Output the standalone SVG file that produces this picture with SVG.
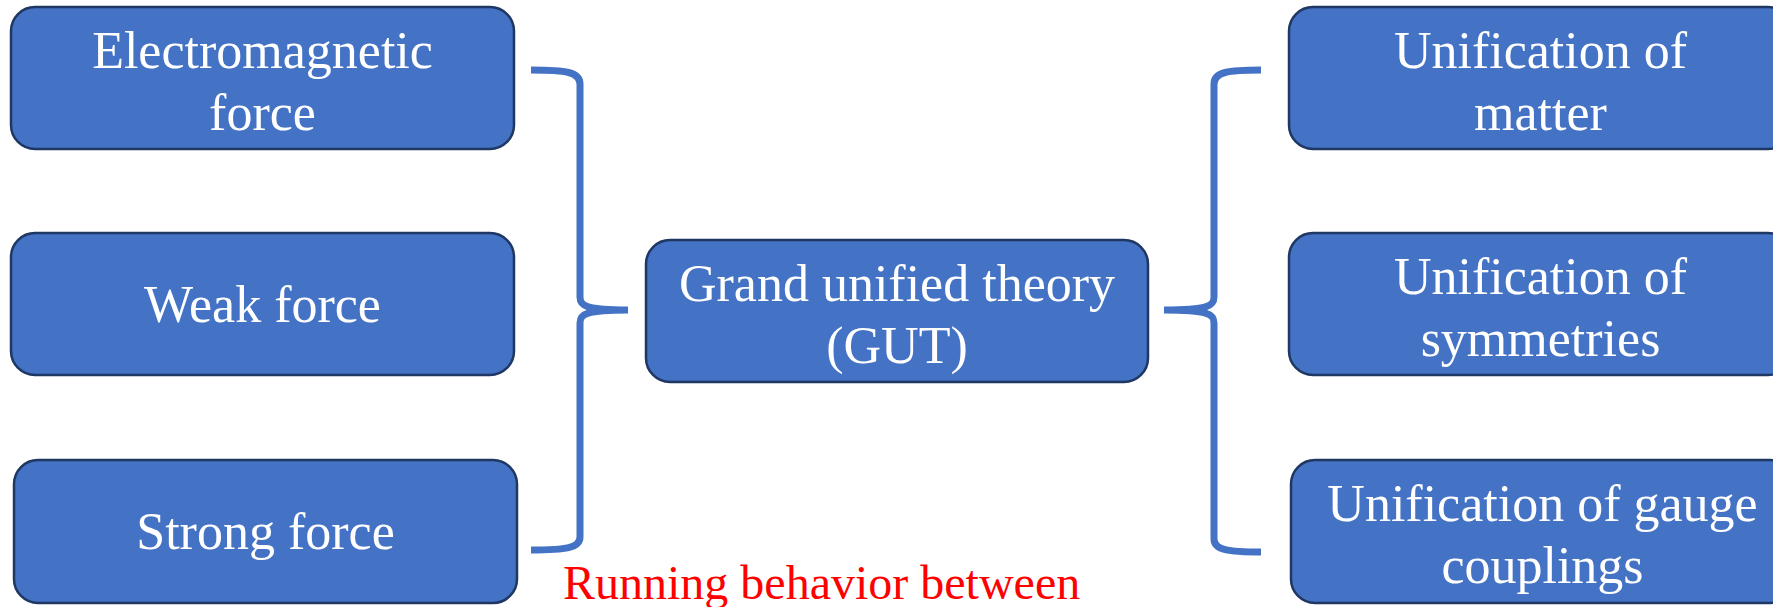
<svg xmlns="http://www.w3.org/2000/svg" width="1773" height="607" viewBox="0 0 1773 607">
<style>
.box{fill:#4472C4;stroke:#1F3763;stroke-width:2.5}
.lbl{fill:#FFFFFF;font-family:"Liberation Serif","Times New Roman",serif;font-size:52px;text-anchor:middle}
.brace{fill:none;stroke:#4472C4;stroke-width:7;stroke-linecap:butt;stroke-linejoin:round}
.note{fill:#FF0000;font-family:"Liberation Serif","Times New Roman",serif;font-size:48px}
</style>
<rect width="1773" height="607" fill="#FFFFFF"/>
<g id="connectors">
<path class="brace" d="M531,70 C566,70 580,72 580,84 L580,297 C580,306 586,310 628,310 M628,310 C586,310 580,314 580,323 L580,537 C580,548 566,550 531,550"/>
<path class="brace" d="M1261,70 C1228,70 1214,72 1214,84 L1214,297 C1214,306 1208,310 1164,310 M1164,310 C1208,310 1214,314 1214,323 L1214,539 C1214,550 1228,552 1261,552"/>
</g>
<g id="node-em">
<rect class="box" x="11" y="7" width="503" height="142" rx="24"/>
<text class="lbl" x="262.5" y="68">Electromagnetic</text>
<text class="lbl" x="262.5" y="130">force</text>
</g>
<g id="node-weak">
<rect class="box" x="11" y="233" width="503" height="142" rx="24"/>
<text class="lbl" x="262.5" y="322">Weak force</text>
</g>
<g id="node-strong">
<rect class="box" x="14" y="460" width="503" height="143" rx="24"/>
<text class="lbl" x="265.5" y="549">Strong force</text>
</g>
<g id="node-gut">
<rect class="box" x="646" y="240" width="502" height="142" rx="24"/>
<text class="lbl" x="897" y="301">Grand unified theory</text>
<text class="lbl" x="897" y="363">(GUT)</text>
</g>
<g id="node-matter">
<rect class="box" x="1289" y="7" width="503" height="142" rx="24"/>
<text class="lbl" x="1540.5" y="68">Unification of</text>
<text class="lbl" x="1540.5" y="130">matter</text>
</g>
<g id="node-symmetries">
<rect class="box" x="1289" y="233" width="503" height="142" rx="24"/>
<text class="lbl" x="1540.5" y="294">Unification of</text>
<text class="lbl" x="1540.5" y="356">symmetries</text>
</g>
<g id="node-gauge">
<rect class="box" x="1291" y="460" width="503" height="143" rx="24"/>
<text class="lbl" x="1542.5" y="521">Unification of gauge</text>
<text class="lbl" x="1542.5" y="583">couplings</text>
</g>
<g id="note">
<text class="note" x="563" y="599">Running behavior between</text>
</g>
</svg>
